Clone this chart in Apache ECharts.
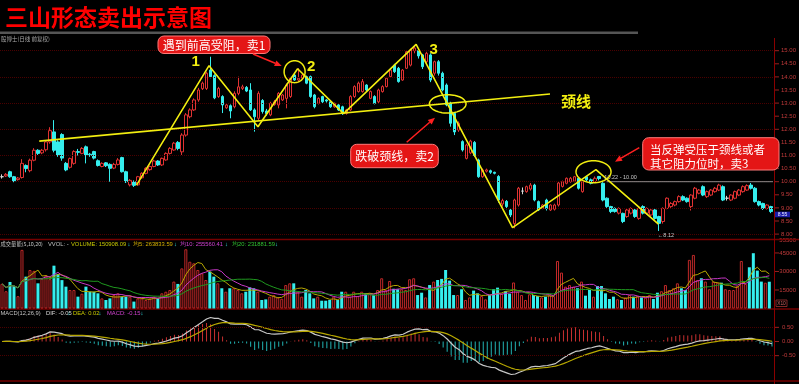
<!DOCTYPE html>
<html><head><meta charset="utf-8">
<script src="https://cdn.jsdelivr.net/npm/echarts/dist/echarts.min.js"></script>
<style>html,body{margin:0;padding:0;background:#000;}#c{width:799px;height:384px;}</style>
</head><body><div id="c"></div>
<script>
// [open, close, low, high]
const candles = [
[10.19,10.19,10.12,10.28],[10.22,10.28,10.18,10.33],[10.38,10.19,10.15,10.42],[10.19,10.03,9.98,10.22],[10.08,10.14,10.04,10.18],
[10.16,10.70,10.12,10.86],[10.62,10.50,10.36,10.66],[10.42,10.82,10.36,10.88],[10.82,11.20,10.78,11.28],[11.20,11.08,11.02,11.24],
[11.10,11.20,11.05,11.25],[11.22,11.52,11.15,11.58],[11.52,11.95,11.45,12.08],[11.90,11.20,11.12,12.35],[11.52,11.02,10.95,11.58],
[11.80,10.90,10.80,11.85],[10.70,10.45,10.40,10.75],[10.55,10.88,10.50,10.92],[10.70,11.15,10.65,11.20],[11.15,11.12,11.00,11.25],
[11.08,11.27,11.05,11.32],[11.33,11.02,10.70,11.38],[11.05,11.00,10.95,11.10],[11.15,10.90,10.85,11.18],[10.80,10.62,10.58,10.85],
[10.58,10.70,10.55,10.74],[10.72,10.61,10.56,10.75],[10.66,10.51,10.00,10.70],[10.52,10.66,10.48,10.72],[10.66,10.83,10.62,10.90],
[10.92,10.38,10.35,10.95],[10.38,10.00,9.95,10.42],[9.88,10.05,9.82,10.10],[10.00,9.86,9.80,10.05],[9.88,10.19,9.85,10.22],
[10.15,10.32,10.12,10.36],[10.32,10.51,10.28,10.55],[10.46,10.58,10.42,10.62],[10.58,10.79,10.55,10.84],[10.79,10.64,10.60,10.82],
[10.64,10.89,10.60,10.92],[10.83,11.08,10.80,11.12],[11.08,11.27,11.04,11.32],[11.21,11.47,11.18,11.52],[11.50,11.27,11.20,11.55],
[11.14,11.78,11.02,11.85],[11.78,12.55,11.72,12.62],[12.48,12.74,12.42,12.80],[12.74,13.12,12.70,13.18],[13.12,13.50,13.05,13.58],
[13.55,13.76,13.50,13.82],[13.56,14.14,13.50,14.20],[14.26,14.01,13.95,14.77],[14.05,13.20,13.15,14.10],[13.25,13.56,13.20,13.62],
[13.25,12.93,12.62,13.30],[12.82,12.93,12.78,12.98],[12.90,12.70,12.42,12.95],[12.86,13.37,12.80,13.45],[13.37,13.62,13.30,14.01],
[13.56,13.62,13.50,13.70],[13.60,13.46,13.42,13.65],[13.50,12.74,12.70,13.76],[12.74,12.48,11.91,12.80],[12.42,13.37,12.35,13.45],
[13.10,12.68,12.60,13.15],[12.70,12.60,12.52,12.78],[12.55,12.99,12.50,13.05],[12.95,13.05,12.90,13.12],[12.93,13.37,12.80,13.42],
[13.12,13.31,13.08,13.35],[13.18,13.69,12.80,13.75],[13.25,13.95,13.20,14.00],[14.07,13.88,13.85,14.12],[13.88,13.95,13.82,14.33],
[13.95,14.07,13.92,14.12],[14.01,13.76,13.72,14.05],[14.01,13.25,13.20,14.05],[13.31,12.86,12.80,13.35],[12.99,13.18,12.95,13.22],
[13.25,13.05,13.00,13.28],[13.12,13.08,13.02,13.15],[13.05,12.86,12.82,13.10],[12.86,12.99,12.82,13.02],[12.93,12.74,12.70,12.96],
[12.86,12.61,12.55,12.90],[12.61,12.74,12.56,12.78],[12.74,13.25,12.70,13.30],[13.25,13.63,13.20,13.68],[13.44,13.76,13.40,13.82],
[13.44,13.82,13.40,13.92],[13.69,13.50,13.45,13.72],[13.18,13.44,13.15,13.48],[13.25,12.99,12.95,13.30],[13.05,13.50,13.00,13.55],
[13.44,13.63,13.40,13.68],[13.63,13.95,13.60,14.00],[14.01,14.26,13.98,14.32],[14.45,14.20,14.15,14.50],[14.33,13.82,13.78,14.38],
[13.88,14.26,13.85,14.30],[14.33,14.96,14.30,15.02],[14.45,15.03,14.40,15.08],[15.00,15.10,14.90,15.22],[15.00,14.80,14.70,15.05],
[14.84,14.39,14.30,14.88],[14.58,14.90,14.50,14.96],[14.84,13.88,13.80,14.90],[14.14,14.58,14.05,14.62],[14.58,14.14,14.05,14.64],
[14.14,13.50,13.45,14.20],[13.69,12.93,12.88,13.75],[12.99,12.23,12.10,13.05],[12.61,11.90,11.78,12.65],[11.97,12.23,11.90,12.30],
[11.53,11.21,11.15,11.58],[10.89,11.40,10.85,11.45],[11.10,11.55,11.05,11.60],[11.50,11.00,10.95,11.55],[10.83,10.19,10.15,10.88],
[10.19,10.45,10.15,10.50],[10.40,10.45,10.35,10.50],[10.42,10.36,10.30,10.46],[10.36,10.32,10.28,10.38],[10.20,9.30,9.20,10.25],
[9.15,9.28,9.05,9.35],[9.25,9.05,8.95,9.30],[8.92,8.73,8.65,8.96],[8.40,9.30,8.22,9.35],[9.11,9.75,9.05,9.80],
[9.64,9.64,9.52,9.78],[9.62,9.81,9.58,9.85],[9.72,9.87,9.66,9.95],[9.87,9.30,9.25,9.92],[9.24,8.92,8.88,9.28],
[8.98,9.11,8.95,9.15],[9.30,8.98,8.90,9.35],[8.92,9.11,8.88,9.14],[8.95,9.11,8.90,9.16],[9.11,9.95,9.05,10.00],
[9.82,10.00,9.78,10.04],[9.94,10.13,9.90,10.16],[10.00,10.13,9.96,10.18],[10.02,10.19,9.98,10.22],[10.13,9.75,9.70,10.18],
[9.62,10.00,9.58,10.05],[10.19,10.07,10.02,10.22],[10.07,9.94,9.90,10.12],[10.00,10.13,9.95,10.20],[10.20,10.12,10.05,10.22],
[9.94,9.30,9.25,9.98],[9.37,9.05,9.00,9.40],[9.05,8.86,8.80,9.08],[8.98,8.86,8.82,9.02],[8.80,8.98,8.75,9.02],
[8.79,8.48,8.42,8.82],[8.67,8.92,8.62,8.96],[8.80,8.98,8.75,9.02],[8.92,8.67,8.62,8.96],[8.60,8.98,8.55,9.05],
[9.05,8.80,8.75,9.10],[8.80,8.98,8.75,9.02],[8.73,8.92,8.68,8.96],[8.92,8.60,8.55,8.96],[8.67,8.41,8.12,8.70],
[8.48,8.98,8.40,9.02],[8.98,9.37,8.95,9.40],[9.05,9.17,9.00,9.22],[9.11,9.24,9.06,9.28],[9.24,9.43,9.20,9.48],
[9.43,9.30,9.26,9.48],[9.37,9.24,9.20,9.40],[9.05,9.49,8.90,9.52],[9.37,9.75,9.33,9.80],[9.56,9.68,9.52,9.72],
[9.81,9.49,9.45,9.86],[9.43,9.62,9.38,9.66],[9.49,9.68,9.45,9.72],[9.62,9.75,9.58,9.80],[9.68,9.87,9.64,9.92],
[9.81,9.30,9.26,9.86],[9.37,9.37,9.28,9.46],[9.30,9.49,9.26,9.52],[9.37,9.62,9.33,9.66],[9.49,9.68,9.45,9.72],
[9.62,9.81,9.58,9.86],[9.68,9.85,9.65,9.90],[9.87,9.75,9.70,9.95],[9.75,9.24,9.20,9.80],[9.24,9.11,9.06,9.28],
[9.17,8.98,8.92,9.20],[8.98,9.11,8.94,9.14],[9.05,8.86,8.80,9.08]
];
const volumes = [
20000,14000,21500,18000,10000,47500,25800,31200,30500,20400,24000,27000,23800,34700,28000,23000,17700,15000,15000,9600,
12000,17700,13600,13600,12300,8200,6900,8200,10900,12300,9600,9600,9600,5600,8200,8200,6900,8200,9600,8200,
12300,13600,15000,21800,19900,32500,48000,37900,36600,31200,28500,23100,29900,25800,20400,16400,13600,16400,16400,15000,
12300,13600,17100,16400,13600,6900,7400,9600,10900,9000,7900,19000,20400,20400,13600,9600,15000,12300,8200,9600,
6300,6300,6900,9600,6900,13600,13600,9600,13600,10100,13600,12300,12300,10900,15000,24500,15000,22300,16000,15600,
15600,15000,23700,24500,10900,12800,9000,19000,21800,23100,24000,31200,22600,10900,10900,15600,6900,9000,14500,12300,
10100,7400,10900,15600,16900,12000,14200,12000,21100,13600,10900,6900,11500,10900,10100,9000,9600,10900,10000,38500,
29100,17700,19000,17700,16400,21800,10400,15000,9600,18200,18200,12300,7700,9600,7500,6900,9000,10900,9600,10100,
9000,8800,10900,7700,12800,14000,19000,15000,16400,20400,16400,15000,39400,43400,23100,24500,21800,15600,21800,20900,
20900,15600,15000,15000,18200,38500,19900,33400,44800,30700,21800,20900,21700
];
const categories = candles.map((_, i) => 'D' + (i + 1));
const priceLevels = [8, 9, 10, 11, 12, 13, 14, 15];
const priceTicks = [8, 8.5, 9, 9.5, 10, 10.5, 11, 11.5, 12, 12.5, 13, 13.5, 14, 14.5, 15];
const volTicks = [15000, 30000, 45000];
const macdTicks = [-0.5, 0, 0.5];
const macdLevels = [-0.5, 0.5];
// annotation shapes in (candle index, price)
const zigzag = [[33.59,9.87],[51.69,14.43],[63.91,12.10],[73.81,14.31],[85.28,12.60],[103.40,15.24],[127.47,8.25],[148.29,10.46],[163.90,8.38]];
const neckline = [[9.30,11.55],[136.82,13.35]];
const refLine = [[151,10.0],[192.5,10.0]];
const circles = [[73.06,14.20,10.5,11],[111.29,12.97,18.3,9.2],[147.69,10.38,17.5,11]];
const peakLabels = [['1',48.37,14.56],['2',77.22,14.37],['3',107.8,15.03]];

const UP = '#e03232', DN = '#35eeee', AX = '#9a2020', AXT = '#c03a3a';

function ma(arr, n) {
  return arr.map((_, i) => { const s = Math.max(0, i - n + 1); let t = 0; for (let k = s; k <= i; k++) t += arr[k]; return +(t / (i - s + 1)).toFixed(1); });
}
const closes = candles.map(c => c[1]);
let e12 = closes[0], e26 = closes[0], dea = 0;
const dif = [], deaArr = [], hist = [];
closes.forEach((c, i) => {
  e12 = e12 + (c - e12) * 2 / 13; e26 = e26 + (c - e26) * 2 / 27;
  const d = e12 - e26; dea = dea + (d - dea) * 2 / 10;
  dif.push(+d.toFixed(4)); deaArr.push(+dea.toFixed(4)); hist.push(+(2 * (d - dea)).toFixed(4));
});

const candleData = candles.map(c => c[0] === c[1] ? { value: c, itemStyle: { color: '#d8d8d8', borderColor: '#d8d8d8', color0: '#d8d8d8', borderColor0: '#d8d8d8' } } : c);
const volData = volumes.map((v, i) => {
  const up = candles[i][1] >= candles[i][0];
  return { value: v, itemStyle: up ? { color: '#000', borderColor: '#c02828', borderWidth: 1 } : { color: DN, borderColor: DN, borderWidth: 0 } };
});
const histData = hist.map(v => ({ value: v, itemStyle: { color: v >= 0 ? '#c83030' : '#22b4b4' } }));

const W = 774;
const lblStyle = { color: AXT, fontSize: 6, fontFamily: 'Liberation Sans', margin: 8, align: 'left' };
const option = {
  backgroundColor: '#000',
  animation: false,
  grid: [
    { left: 0, top: 37.6, width: W, height: 209.6 },
    { left: 0, top: 240, width: W, height: 68.5 },
    { left: 0, top: 299, width: W, height: 90 }
  ],
  xAxis: [
    { type: 'category', gridIndex: 0, data: categories, show: false },
    { type: 'category', gridIndex: 1, data: categories, show: false },
    { type: 'category', gridIndex: 2, data: categories, show: false },
    { type: 'value', gridIndex: 0, min: -0.5, max: candles.length - 0.5, show: false }
  ],
  yAxis: [
    { type: 'value', gridIndex: 0, position: 'right', min: 7.5, max: 15.5, interval: 0.5, splitLine: { show: false },
      axisLine: { show: false }, axisTick: { show: false },
      axisLabel: Object.assign({}, lblStyle, { formatter: v => (v < 7.99 || v > 15.01) ? '' : v.toFixed(2) }) },
    { type: 'value', gridIndex: 1, position: 'right', min: 0, max: 55500, interval: 15000, splitLine: { show: false },
      axisLine: { show: false }, axisTick: { show: false },
      axisLabel: Object.assign({}, lblStyle, { formatter: v => v === 0 ? '' : String(v) }) },
    { type: 'value', gridIndex: 2, position: 'right', min: -1.5, max: 1.5, interval: 0.5, splitLine: { show: false },
      axisLine: { show: false }, axisTick: { show: false },
      axisLabel: Object.assign({}, lblStyle, { formatter: v => Math.abs(v) > 0.51 ? '' : v.toFixed(2) }) }
  ],
  series: [
    { type: 'candlestick', xAxisIndex: 0, yAxisIndex: 0, data: candleData, barWidth: 3,
      itemStyle: { color: '#000', color0: DN, borderColor: UP, borderColor0: DN, borderWidth: 1 },
      markLine: { silent: true, symbol: 'none', label: { show: false }, lineStyle: { type: 'dotted', color: '#4a0000', width: 1 },
        emphasis: { disabled: true }, data: priceLevels.map(v => ({ yAxis: v })) } },
    { type: 'bar', xAxisIndex: 1, yAxisIndex: 1, data: volData, barWidth: 3 },
    { type: 'line', xAxisIndex: 1, yAxisIndex: 1, data: ma(volumes, 5), symbol: 'none', lineStyle: { color: '#b8a800', width: 1 } },
    { type: 'line', xAxisIndex: 1, yAxisIndex: 1, data: ma(volumes, 10), symbol: 'none', lineStyle: { color: '#c838c8', width: 1 } },
    { type: 'line', xAxisIndex: 1, yAxisIndex: 1, data: ma(volumes, 20), symbol: 'none', lineStyle: { color: '#1f9a1f', width: 1 } },
    { type: 'bar', xAxisIndex: 2, yAxisIndex: 2, data: histData, barWidth: 1,
      markLine: { silent: true, symbol: 'none', label: { show: false }, lineStyle: { type: 'dotted', color: '#4a0000', width: 1 },
        emphasis: { disabled: true }, data: macdLevels.map(v => ({ yAxis: v })) } },
    { type: 'line', xAxisIndex: 2, yAxisIndex: 2, data: dif, symbol: 'none', lineStyle: { color: '#c8c8c8', width: 1.2 } },
    { type: 'line', xAxisIndex: 2, yAxisIndex: 2, data: deaArr, symbol: 'none', lineStyle: { color: '#b8a800', width: 1.2 } },
    { type: 'line', xAxisIndex: 3, yAxisIndex: 0, data: zigzag, symbol: 'none', z: 10, lineStyle: { color: '#f2ee10', width: 1.6 } },
    { type: 'line', xAxisIndex: 3, yAxisIndex: 0, data: neckline, symbol: 'none', z: 10, lineStyle: { color: '#f2ee10', width: 1.6 } },
    { type: 'line', xAxisIndex: 3, yAxisIndex: 0, data: refLine, symbol: 'none', z: 9, lineStyle: { color: '#8a8a8a', width: 1 } }
  ]
};
const chart = echarts.init(document.getElementById('c'));
chart.setOption(option);

const px = (i, p) => chart.convertToPixel({ seriesIndex: 8 }, [i, p]);
const T = (text, x, y, fill, font, align, z) => ({ type: 'text', z: z || 50, style: { text, x, y, fill, font, textAlign: align || 'left', align: align || 'left', textVerticalAlign: 'middle', verticalAlign: 'middle' } });
const small = '5.8px "Liberation Sans"';
const g = [];
// panel separators & axis line
g.push({ type: 'rect', z: 1, shape: { x: 0, y: 31.5, width: 638, height: 2.4 }, style: { fill: '#555' } });
[239.5, 309, 381].forEach(y => g.push({ type: 'line', z: 1, shape: { x1: 0, y1: y, x2: 799, y2: y }, style: { stroke: '#760000', lineWidth: 1.5 } }));
g.push({ type: 'line', z: 1, shape: { x1: 774.5, y1: 38, x2: 774.5, y2: 384 }, style: { stroke: '#8a0000', lineWidth: 1 } });
// axis ticks
[[0, priceTicks], [1, volTicks], [2, macdTicks]].forEach(([ax, ticks]) => ticks.forEach(v => {
  const y = chart.convertToPixel({ yAxisIndex: ax }, v);
  g.push({ type: 'line', z: 2, shape: { x1: 775, y1: y, x2: 779, y2: y }, style: { stroke: AX, lineWidth: 1 } });
}));
// title & header
g.push(T('三山形态卖出示意图', 5, 17, '#ff0000', 'bold 23px "Noto Sans CJK SC"'));
g.push(T('股博士(日线 前复权)', 1, 38.7, '#a8a8a8', '5.5px "Noto Sans CJK SC"'));
// volume legend
g.push(T('成交量能(5,10,20)', 0.5, 244, '#c0c0c0', '5.3px "Noto Sans CJK SC"'));
g.push(T('VVOL: -', 48, 244, '#c0c0c0', small));
g.push(T('VOLUME: 150908.09', 71, 244, '#c8c800', small));
g.push(T('均5: 263833.59', 133, 244, '#d8b000', small));
g.push(T('均10: 255560.41', 180, 244, '#d040d0', small));
g.push(T('均20: 231881.59', 232, 244, '#30c030', small));
[127.5, 174, 225, 275].forEach(x => g.push(T('↓', x, 244, DN, small)));
// macd legend
g.push(T('MACD(12,26,9)', 0.5, 313.3, '#c0c0c0', small));
g.push(T('DIF: -0.05', 46, 313.3, '#d8d8d8', small));
g.push(T('DEA: 0.02', 73, 313.3, '#c8c800', small));
g.push(T('MACD: -0.15', 107, 313.3, '#d040d0', small));
[67.5, 98.5, 140.5].forEach(x => g.push(T('↓', x, 313.3, DN, small)));
// X10 box
g.push({ type: 'rect', z: 50, shape: { x: 776, y: 300, width: 11, height: 6.5 }, style: { fill: 'none', stroke: '#a03030', lineWidth: 0.8 } });
g.push(T('X10', 781.5, 303.3, '#d06060', '4.8px "Liberation Sans"', 'center'));
// last price box
const lp = px(192, 8.75);
g.push({ type: 'rect', z: 50, shape: { x: 775, y: lp[1] - 2.8, width: 15, height: 5.6 }, style: { fill: '#1c1ca8' } });
g.push(T('8.55', 782.5, lp[1], '#e8e8ff', '5px "Liberation Sans"', 'center'));
// circles / ellipses
circles.forEach(c => {
  const p = px(c[0], c[1]); const pts = [];
  for (let k = 0; k < 60; k++) { const a = k / 60 * Math.PI * 2; pts.push([p[0] + c[2] * Math.cos(a), p[1] + c[3] * Math.sin(a)]); }
  g.push({ type: 'polygon', z: 60, shape: { points: pts }, style: { fill: 'none', stroke: '#f2ee10', lineWidth: 1.5 } });
});
peakLabels.forEach(l => { const p = px(l[1], l[2]); g.push(T(l[0], p[0], p[1], '#f2ee10', 'bold 15px "Liberation Sans"', 'center', 60)); });
const nk = px(143.3, 13.08);
g.push(T('颈线', nk[0], nk[1], '#f2ee10', 'bold 15px "Noto Sans CJK SC"', 'center', 60));
// small price notes
const rl = px(151, 10.0);
g.push(T('10.22 - 10.00', rl[0] + 30, rl[1] - 4.5, '#c8c8c8', '5.5px "Liberation Sans"', 'right'));
const lo = px(164, 8.12);
g.push(T('←8.12', lo[0] - 1, lo[1] + 5, '#c8c8c8', '5.5px "Liberation Sans"'));
// callouts
function arrow(x1, y1, x2, y2, color) {
  const a = Math.atan2(y2 - y1, x2 - x1), L = 7, Wd = 3;
  const bx = x2 - L * Math.cos(a), by = y2 - L * Math.sin(a);
  const ox = -Math.sin(a) * Wd, oy = Math.cos(a) * Wd;
  g.push({ type: 'line', z: 70, shape: { x1, y1, x2: bx, y2: by }, style: { stroke: color, lineWidth: 1.5 } });
  g.push({ type: 'polygon', z: 70, shape: { points: [[x2, y2], [bx + ox, by + oy], [bx - ox, by - oy]] }, style: { fill: color } });
}
function box(x, y, w, h) {
  g.push({ type: 'rect', z: 70, shape: { x, y, width: w, height: h, r: 6 }, style: { fill: '#e41616', stroke: '#ff7a7a', lineWidth: 1 } });
}
const CF = '12px "Noto Sans CJK SC"';
box(158, 36, 112, 17.5);
g.push(T('遇到前高受阻，卖1', 214, 45, '#ffffff', CF, 'center', 71));
arrow(253, 54, 281.7, 66, '#ff2020');
box(350.7, 144.3, 87.6, 23.4);
g.push(T('跌破颈线，卖2', 394.5, 156, '#ffffff', CF, 'center', 71));
arrow(406.7, 142.3, 435, 117.7, '#ff2020');
box(642.7, 137.7, 136.3, 32.3);
g.push(T('当反弹受压于颈线或者', 650, 150, '#ffffff', '11.5px "Noto Sans CJK SC"', 'left', 71));
g.push(T('其它阻力位时，卖3', 650, 163.3, '#ffffff', '11.5px "Noto Sans CJK SC"', 'left', 71));
arrow(639.3, 147.7, 615, 161.7, '#ff2020');
chart.setOption({ graphic: g });
</script>
</body></html>
